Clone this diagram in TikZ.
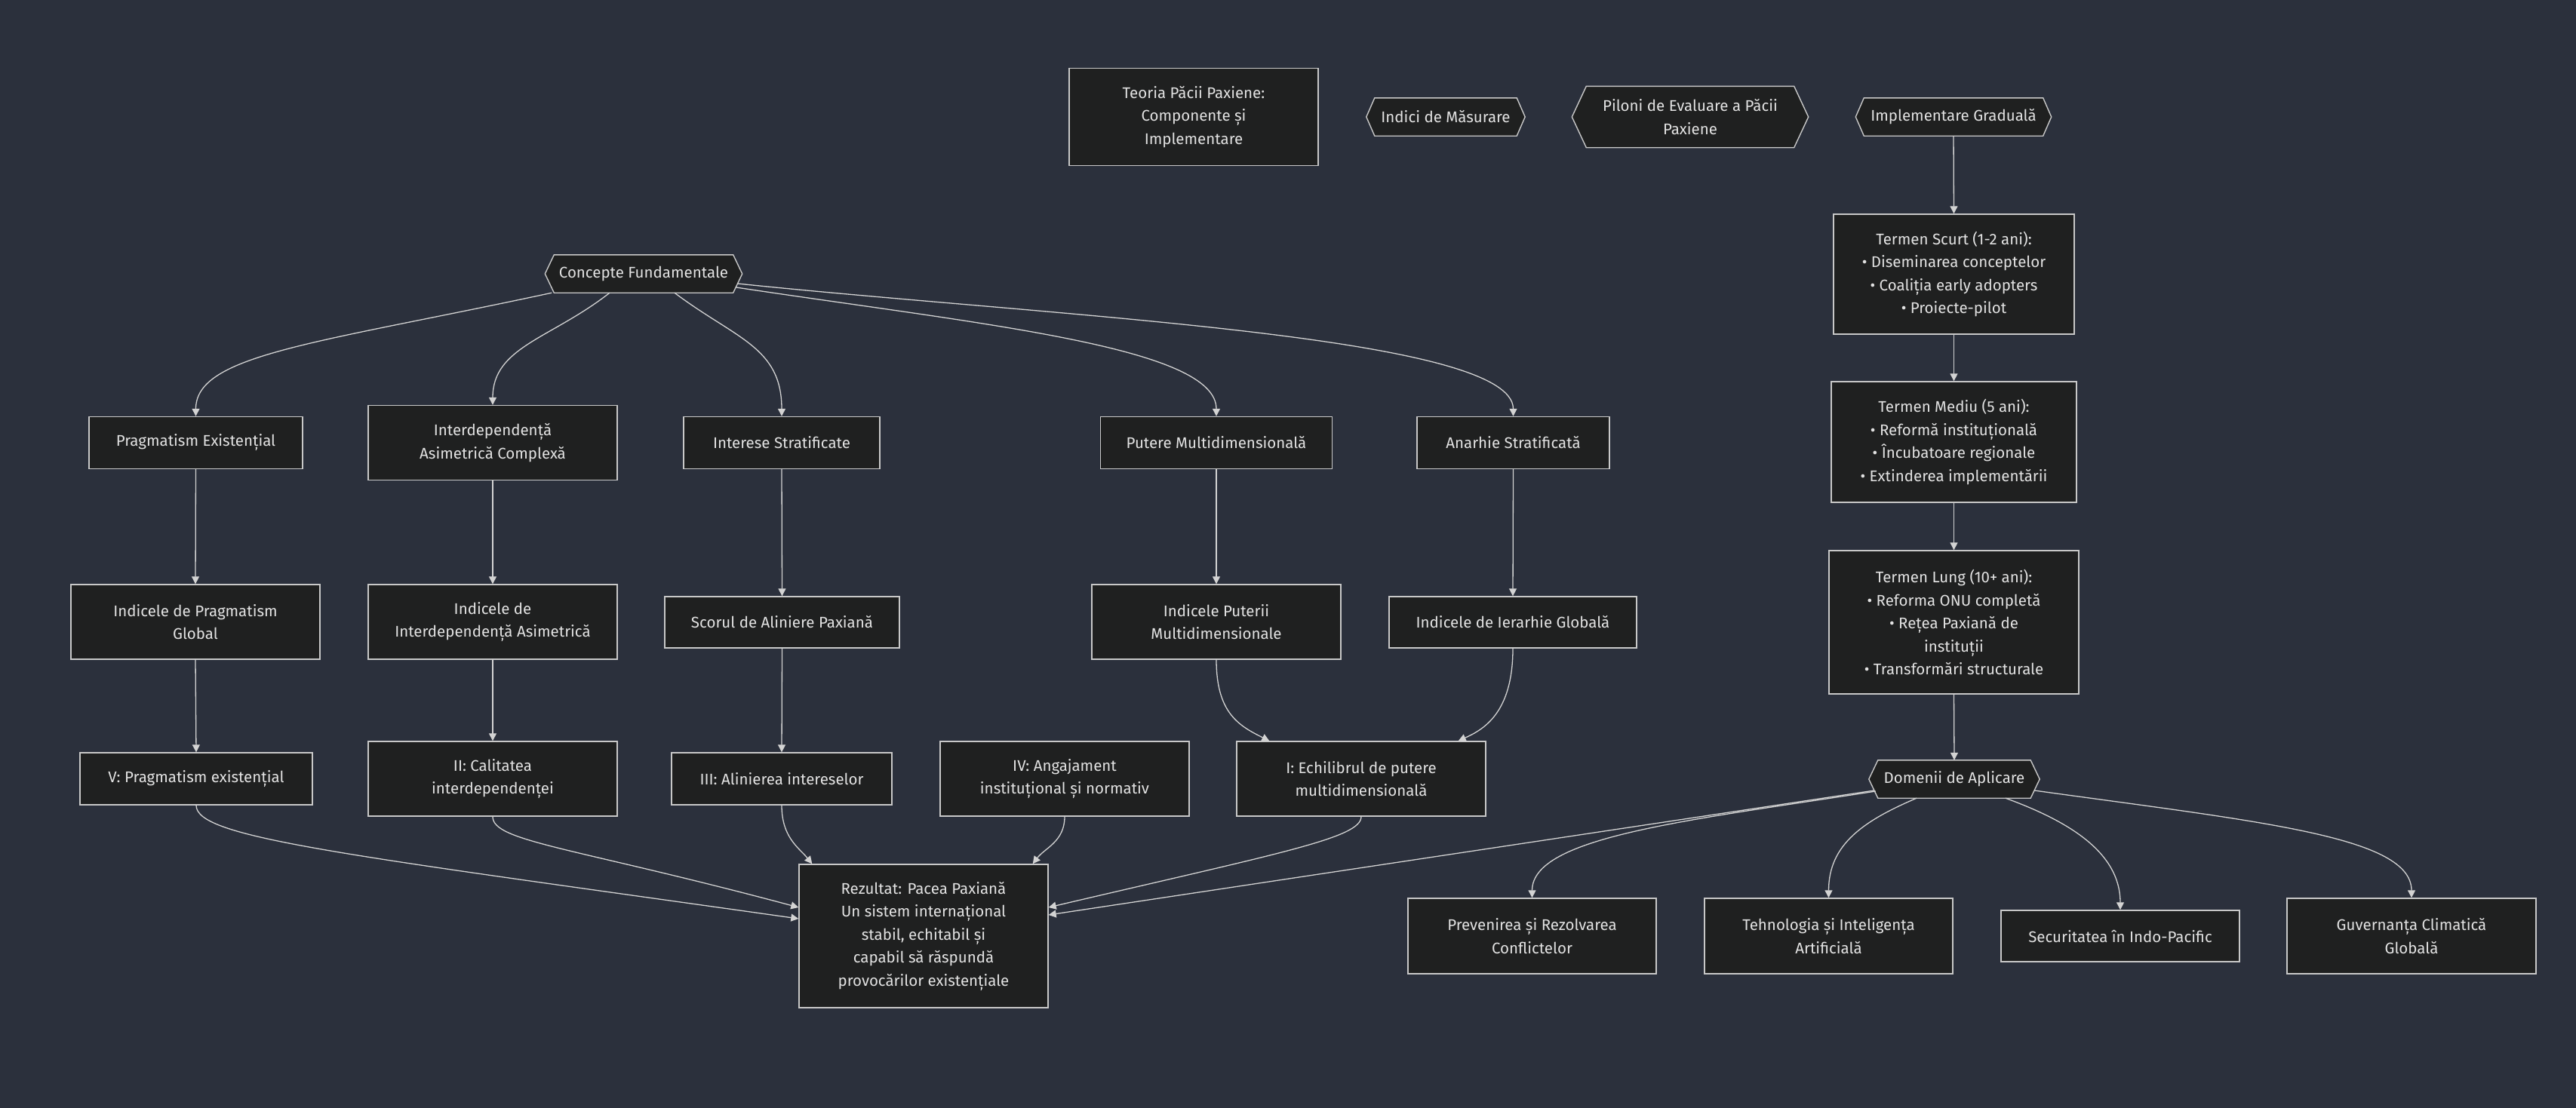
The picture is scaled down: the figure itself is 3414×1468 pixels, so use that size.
\documentclass[tikz,border=0pt]{standalone}
\usepackage{fontspec}
\setmainfont{Fira Sans}
\usetikzlibrary{arrows.meta,calc,backgrounds}
\definecolor{bgc}{RGB}{43,48,60}
\definecolor{nodefill}{RGB}{31,32,32}
\definecolor{nodeline}{RGB}{200,200,200}
\definecolor{edgec}{RGB}{211,211,211}
\definecolor{txt}{RGB}{226,226,226}
\tikzset{
  lbl/.style={inner sep=0pt, text=txt, align=center, font=\fontsize{20.5}{30.5}\selectfont},
  box/.style={lbl, rectangle, draw=nodeline, fill=nodefill, line width=1.4pt},
  hexnode/.style={lbl, rectangle},
  hexshape/.style={draw=nodeline, fill=nodefill, line width=1.4pt},
  edge/.style={draw=edgec, line width=1.3pt, -{Triangle[length=10pt,width=10pt]}},
  sz/.style 2 args={minimum width=#1pt, minimum height=#2pt}
}
\begin{document}
\begin{tikzpicture}[x=1pt,y=-1pt]
\useasboundingbox (0,0) rectangle (3414,1468);

% top row
\node[box, sz={330}{129}] (teoria) at (1582,155) {Teoria Păcii Paxiene:\\Componente și\\Implementare};
\node[hexnode, sz={210}{50}] (indici) at (1916,155) {Indici de Măsurare};
\node[hexnode, sz={313}{81}] (piloni) at (2240,155) {Piloni de Evaluare a Păcii\\Paxiene};
\node[hexnode, sz={259}{50}] (impl) at (2589,155) {Implementare Graduală};

% concepts
\node[hexnode, sz={261}{50}] (concepte) at (853,363) {Concepte Fundamentale};
\node[box, sz={283}{69}] (prag) at (259.5,587) {Pragmatism Existențial};
\node[box, sz={330}{99}] (interdep) at (653,587) {Interdependență\\Asimetrică Complexă};
\node[box, sz={260}{69}] (interese) at (1036,587) {Interese Stratificate};
\node[box, sz={307}{69}] (putere) at (1612,587) {Putere Multidimensională};
\node[box, sz={255}{69}] (anarhie) at (2005.5,587) {Anarhie Stratificată};

% indices
\node[box, sz={330}{99}] (iprag) at (259,824.5) {Indicele de Pragmatism\\Global};
\node[box, sz={330}{99}] (iinter) at (653,824.5) {Indicele de\\Interdependență Asimetrică};
\node[box, sz={311}{68}] (scorul) at (1036.5,825) {Scorul de Aliniere Paxiană};
\node[box, sz={330}{99}] (iputere) at (1612,824.5) {Indicele Puterii\\Multidimensionale};
\node[box, sz={328}{68}] (iierarhie) at (2005,825) {Indicele de Ierarhie Globală};

% pillars
\node[box, sz={308}{69}] (pV) at (260,1032.5) {V: Pragmatism existențial};
\node[box, sz={330}{99}] (pII) at (653,1032.5) {II: Calitatea\\interdependenței};
\node[box, sz={292}{69}] (pIII) at (1036,1032.5) {III: Alinierea intereselor};
\node[box, sz={330}{99}] (pIV) at (1411,1032.5) {IV: Angajament\\instituțional și normativ};
\node[box, sz={330}{99}] (pI) at (1804,1032.5) {I: Echilibrul de putere\\multidimensională};

% result
\node[box, sz={330}{190}] (result) at (1224,1241) {Rezultat: Pacea Paxiană\\Un sistem internațional\\stabil, echitabil și\\capabil să răspundă\\provocărilor existențiale};

% implementation
\node[box, sz={319}{159}] (scurt) at (2589.5,363.5) {Termen Scurt (1-2 ani):\\• Diseminarea conceptelor\\• Coaliția early adopters\\• Proiecte-pilot};
\node[box, sz={325}{160}] (mediu) at (2589.5,586) {Termen Mediu (5 ani):\\• Reformă instituțională\\• Încubatoare regionale\\• Extinderea implementării};
\node[box, sz={331}{190}] (lung) at (2589.5,825) {Termen Lung (10+ ani):\\• Reforma ONU completă\\• Rețea Paxiană de\\instituții\\• Transformări structurale};
\node[hexnode, sz={226}{50}] (domenii) at (2590,1033) {Domenii de Aplicare};

% application domains
\node[box, sz={329}{100}] (prev) at (2030.5,1241) {Prevenirea și Rezolvarea\\Conflictelor};
\node[box, sz={329}{100}] (tehno) at (2423.5,1241) {Tehnologia și Inteligența\\Artificială};
\node[box, sz={316}{68}] (secur) at (2810,1241) {Securitatea în Indo-Pacific};
\node[box, sz={330}{100}] (guvern) at (3196,1241) {Guvernanța Climatică\\Globală};

\begin{pgfonlayer}{background}
\fill[bgc] (-10,-10) rectangle (3424,1478);
\foreach \n/\i in {indici/11, piloni/19, impl/11, concepte/12, domenii/12}{
  \filldraw[hexshape] (\n.west) -- ($(\n.north west)+(\i,0)$) -- ($(\n.north east)+(-\i,0)$)
    -- (\n.east) -- ($(\n.south east)+(-\i,0)$) -- ($(\n.south west)+(\i,0)$) -- cycle;
}
\end{pgfonlayer}

% implementation chain
\draw[edge] (impl.south) -- (scurt.north);
\draw[edge] (scurt.south) -- (mediu.north);
\draw[edge] (mediu.south) -- (lung.north);
\draw[edge] (lung.south) -- (domenii.north);

% concepts fan-out
\draw[edge] ($(concepte.south west)+(9,0)$) .. controls +(-311,67) and +(0,-82) .. (prag.north);
\draw[edge] ($(concepte.south)+(-45,0)$) .. controls +(-78,61) and +(0,-77) .. (interdep.north);
\draw[edge] ($(concepte.south)+(41,0)$) .. controls +(81,61) and +(0,-92) .. (interese.north);
\draw[edge] ($(concepte.east)+(-8,18)$) .. controls +(325,49) and +(0,-92) .. (putere.north);
\draw[edge] ($(concepte.east)+(-6,13)$) .. controls +(422,44) and +(0,-107) .. (anarhie.north);

% concepts to indices
\draw[edge] (prag.south) -- (iprag.north);
\draw[edge] (interdep.south) -- (iinter.north);
\draw[edge] (interese.south) -- (scorul.north);
\draw[edge] (putere.south) -- (iputere.north);
\draw[edge] (anarhie.south) -- (iierarhie.north);

% indices to pillars
\draw[edge] (iprag.south) -- (pV.north);
\draw[edge] (iinter.south) -- (pII.north);
\draw[edge] (scorul.south) -- (pIII.north);
\draw[edge] (iputere.south) .. controls +(0,71) and +(-40,-20) .. ($(pI.north west)+(44,0)$);
\draw[edge] (iierarhie.south) .. controls +(0,86) and +(33,-15) .. ($(pI.north east)+(-37,0)$);

% pillars to result
\draw[edge] (pV.south) .. controls +(0,43) and +(-609,-86) .. ($(result.west)+(0,-23)$);
\draw[edge] (pII.south) .. controls +(0,33) and +(-299,-80) .. ($(result.west)+(0,-38)$);
\draw[edge] (pIII.south) .. controls +(0,43) and +(-17,-21) .. ($(result.north west)+(18,0)$);
\draw[edge] (pIV.south) .. controls +(0,33) and +(16,-21) .. ($(result.north east)+(-21,0)$);
\draw[edge] (pI.south) .. controls +(0,28) and +(311,-73) .. ($(result.east)+(0,-38)$);
\draw[edge] ($(domenii.west)+(7,15)$) -- ($(result.east)+(0,-28)$);

% application domains
\draw[edge] ($(domenii.west)+(9,16)$) .. controls +(-250,39) and +(0,-81) .. (prev.north);
\draw[edge] ($(domenii.south)+(-50,0)$) .. controls +(-70,30) and +(0,-71) .. (tehno.north);
\draw[edge] ($(domenii.south)+(68,0)$) .. controls +(82,30) and +(0,-77) .. (secur.north);
\draw[edge] ($(domenii.east)+(-7,15)$) .. controls +(303,42) and +(0,-81) .. (guvern.north);
\end{tikzpicture}
\end{document}
